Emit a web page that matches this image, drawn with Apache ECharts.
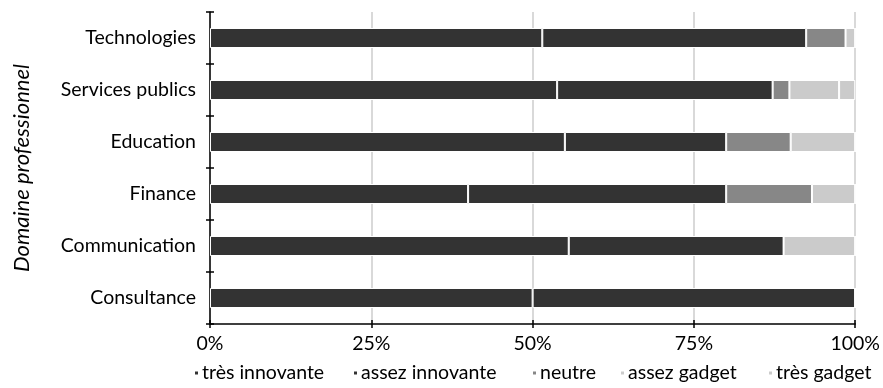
<!DOCTYPE html>
<html><head><meta charset="utf-8">
<script src="https://cdn.jsdelivr.net/npm/echarts@6/dist/echarts.min.js"></script>
<style>html,body{margin:0;padding:0;background:#fff}#c{width:883px;height:388px}</style>
</head><body><div id="c"></div>
<script>
const categories = ['Technologies', 'Services publics', 'Education', 'Finance', 'Communication', 'Consultance'];
const tresInnovante = [51.5, 53.8, 55.0, 40.0, 55.6, 50.0];
const assezInnovante = [40.9, 33.4, 25.0, 40.0, 33.3, 50.0];
const neutre = [6.1, 2.6, 10.0, 13.3, 0, 0];
const assezGadget = [1.5, 7.7, 10.0, 6.7, 11.1, 0];
const tresGadget = [0, 2.5, 0, 0, 0, 0];
const xTicks = [0, 25, 50, 75, 100];
const seriesNames = ['très innovante', 'assez innovante', 'neutre', 'assez gadget', 'très gadget'];
const seriesData = [tresInnovante, assezInnovante, neutre, assezGadget, tresGadget];
const seriesColors = ['#333333', '#333333', '#878787', '#cbcbcb', '#cbcbcb'];
const legendLefts = [193, 352, 531, 619, 767];

const FONT = 'Lato';
const chart = echarts.init(document.getElementById('c'), null, {renderer: 'canvas'});
chart.setOption({
  animation: false,
  textStyle: {fontFamily: FONT, color: '#000'},
  grid: {left: 210, right: 27, top: 12, bottom: 64, containLabel: false},
  legend: seriesNames.map((n, i) => ({
    data: [n], top: 363, left: legendLefts[i], icon: 'rect', itemWidth: 5, itemHeight: 5,
    padding: 0,
    textStyle: {fontFamily: FONT, fontSize: 19.5, color: '#000', padding: [0, 0, 0, -2]}
  })),
  xAxis: [{
    type: 'value', min: xTicks[0], max: xTicks[xTicks.length - 1], interval: 25,
    axisLine: {show: true, lineStyle: {color: '#000', width: 1.5}},
    axisTick: {show: true, length: 4, lineStyle: {color: '#000', width: 1.5}},
    axisLabel: {formatter: '{value}%', fontFamily: FONT, fontSize: 19.5, color: '#000', margin: 10},
    splitLine: {show: true, lineStyle: {color: '#d9d9d9', width: 2}}
  }, {
    type: 'value', position: 'bottom', min: xTicks[0], max: xTicks[xTicks.length - 1], interval: 25,
    axisLine: {show: false},
    axisTick: {show: true, inside: true, length: 4, lineStyle: {color: '#000', width: 1.5}},
    axisLabel: {show: false}, splitLine: {show: false}
  }],
  yAxis: [{
    type: 'category', data: categories, inverse: true,
    axisLine: {show: true, lineStyle: {color: '#000', width: 1.5}},
    axisTick: {show: true, length: 4, lineStyle: {color: '#000', width: 1.5}},
    axisLabel: {fontFamily: FONT, fontSize: 19.5, color: '#000', margin: 14},
    name: 'Domaine professionnel', nameLocation: 'middle', nameGap: 177, nameRotate: 90,
    nameTextStyle: {fontFamily: FONT, fontSize: 22, fontStyle: 'italic', color: '#000'}
  }, {
    type: 'category', data: categories, inverse: true, position: 'left', offset: 0,
    axisLine: {show: false},
    axisTick: {show: true, inside: true, length: 4, lineStyle: {color: '#000', width: 1.5}},
    axisLabel: {show: false}
  }],
  series: seriesNames.map((n, i) => ({
    name: n, type: 'bar', stack: 'total', data: seriesData[i], barWidth: 20,
    xAxisIndex: 0, yAxisIndex: 0,
    itemStyle: {color: seriesColors[i], borderColor: '#ffffff', borderWidth: 1}
  }))
});
</script></body></html>
